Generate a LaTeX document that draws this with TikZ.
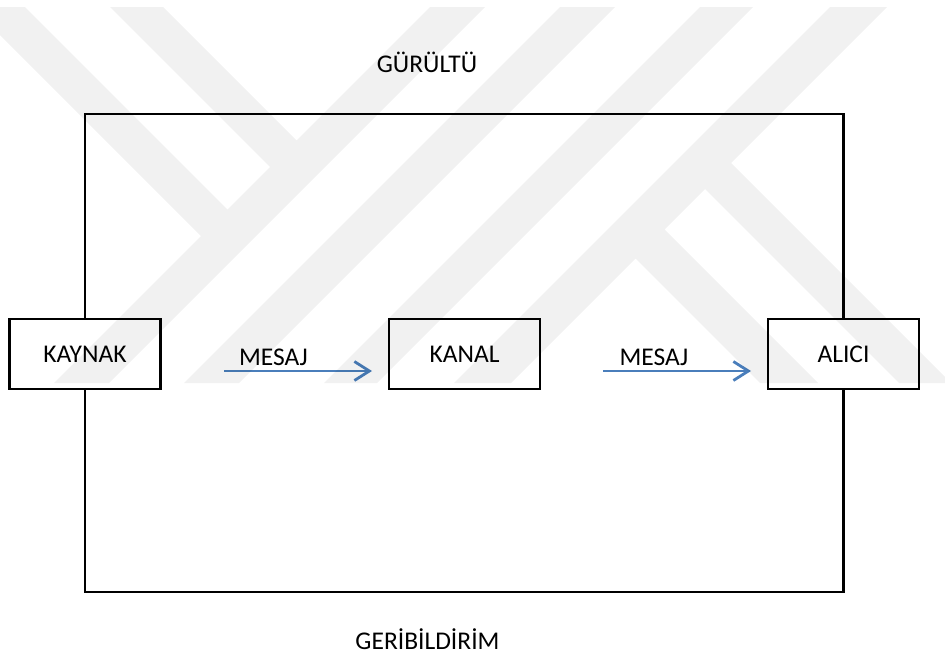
\documentclass[tikz,border=0pt]{standalone}
\usepackage{fontspec}
\setmainfont{Carlito}
\usetikzlibrary{arrows.meta}
\definecolor{msgblue}{RGB}{74,126,187}
\begin{document}
\begin{tikzpicture}[x=1pt,y=-1pt,
  txt/.style={font=\fontsize{25.5}{30}\selectfont},
  frame/.style={line width=2.8pt, line join=miter},
  block/.style={txt, draw, fill=white, line width=2.8pt,
    minimum width=151pt, minimum height=70pt, inner sep=0pt},
  lbl/.style={txt, anchor=base, inner sep=0pt},
  msg/.style={draw=msgblue, line width=2.8pt,
    -{Straight Barb[length=15pt,width=19pt]}},
  wmark/.style={fill=black, fill opacity=0.055}
]
\useasboundingbox (0,0) rectangle (945,656);

% the three stations
\node[block] (kaynak) at (85,354) {KAYNAK};
\node[block] (kanal)  at (464.5,354) {KANAL};
\node[block] (alici)  at (843.5,354) {ALICI};

% corners of the surrounding loop
\coordinate (tl) at (85,114);
\coordinate (tr) at (843.5,114);
\coordinate (bl) at (85,592);
\coordinate (br) at (843.5,592);

\draw[frame] (kaynak.north) -- (tl) -- (tr) -- (alici.north);
\draw[frame] (kaynak.south) -- (bl) -- (br) -- (alici.south);

% message arrows
\coordinate (m1a) at (224,371);
\coordinate (m1b) at (372,371);
\coordinate (m2a) at (603,371);
\coordinate (m2b) at (751,371);
\draw[msg] (m1a) -- (m1b);
\draw[msg] (m2a) -- (m2b);

\node[lbl] (msg1) at (273.5,365) {MESAJ};
\node[lbl] (msg2) at (654,365) {MESAJ};

\node[lbl] (noise)    at (427,72)    {GÜRÜLTÜ};
\node[lbl] (feedback) at (427.5,649) {GERİBİLDİRİM};

% faint logo bands laid over the page
\fill[wmark]
  (0,7) -- (25,7) -- (227.5,209.5) -- (201,236) -- (0,35) -- cycle
  (110,7) -- (163,7) -- (296.5,140.5) -- (270,167) -- cycle
  (430,7) -- (485,7) -- (109,383) -- (54,383) -- cycle
  (560,7) -- (615,7) -- (239,383) -- (184,383) -- cycle
  (700,7) -- (753,7) -- (377,383) -- (324,383) -- cycle
  (830,7) -- (887,7) -- (511,383) -- (454,383) -- cycle
  (731,163) -- (945,377) -- (945,383) -- (899,383) -- (705,189) -- cycle
  (664.5,229.5) -- (818,383) -- (760,383) -- (635.5,258.5) -- cycle;
\end{tikzpicture}
\end{document}
